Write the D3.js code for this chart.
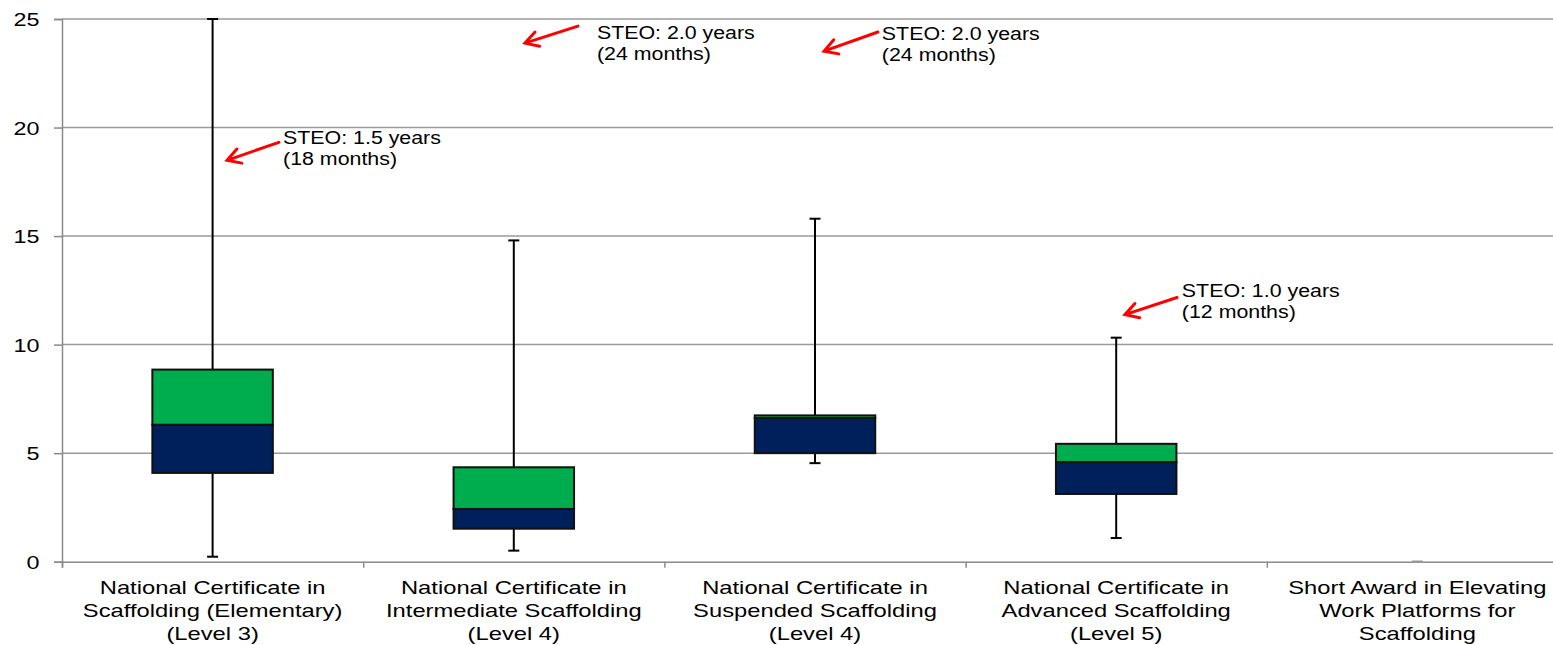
<!DOCTYPE html>
<html>
<head>
<meta charset="utf-8">
<script src="https://cdn.jsdelivr.net/npm/d3@7"></script>
<style>
  body { margin: 0; background: #fff; }
  text { font-family: "Liberation Sans", Arial, sans-serif; fill: #000; }
</style>
</head>
<body>
<div id="chart"></div>
<script>
// categories (axis labels split in lines)
var categories = ["Elementary L3", "Intermediate L4", "Suspended L4", "Advanced L5", "EWP"];
var labelLines = [
  ["National Certificate in", "Scaffolding (Elementary)", "(Level 3)"],
  ["National Certificate in", "Intermediate Scaffolding", "(Level 4)"],
  ["National Certificate in", "Suspended Scaffolding", "(Level 4)"],
  ["National Certificate in", "Advanced Scaffolding", "(Level 5)"],
  ["Short Award in Elevating", "Work Platforms for", "Scaffolding"]
];

// box plot values (months)
var minV   = [0.23, 0.51, 4.54, 1.09, 0];
var q1     = [4.09, 1.52, 5.00, 3.12, 0];
var median = [6.31, 2.43, 6.62, 4.59, 0];
var q3     = [8.85, 4.35, 6.74, 5.43, 0];
var maxV   = [25,   14.8, 15.8, 10.32, 0];

var yTicks = [0, 5, 10, 15, 20, 25];

// STEO annotations, positions in (category units, months)
var noteText = [
  ["STEO: 1.5 years", "(18 months)"],
  ["STEO: 2.0 years", "(24 months)"],
  ["STEO: 2.0 years", "(24 months)"],
  ["STEO: 1.0 years", "(12 months)"]
];
var noteTip  = [[0.548, 18.49], [1.537, 23.89], [2.530, 23.52], [3.529, 11.38]];
var noteTail = [[0.720, 19.32], [1.713, 24.67], [2.709, 24.40], [3.702, 12.17]];
var noteAt   = [[0.734, 19.22], [1.776, 24.09], [2.722, 24.03], [3.718, 12.21]];

var width = 1553, height = 645;
var plotLeft = 62, plotRight = 1568, plotTop = 19, plotBottom = 561.7;

var svg = d3.select("#chart").append("svg")
    .attr("width", width)
    .attr("height", height);

var x = d3.scaleBand().domain(categories).range([plotLeft, plotRight])
    .paddingInner(0.6).paddingOuter(0.3);
var xPos = d3.scaleLinear().domain([0, categories.length]).range([plotLeft, plotRight]);
var y = d3.scaleLinear().domain([0, 25]).range([plotBottom, plotTop]);

var green = "#00ad4e", navy = "#00205c";

// gridlines
svg.append("g")
  .selectAll("line")
  .data(yTicks.filter(function(d) { return d > 0; }))
  .enter().append("line")
  .attr("x1", plotLeft).attr("x2", plotRight)
  .attr("y1", function(d) { return y(d); })
  .attr("y2", function(d) { return y(d); })
  .style("stroke", "#9a9a9a")
  .style("stroke-width", "1.5px");

// y axis
var yAxis = svg.append("g")
  .attr("transform", "translate(" + plotLeft + ",0)")
  .call(d3.axisLeft(y).tickValues(yTicks).tickSize(8).tickPadding(0).tickFormat(function(d) { return ""; }));
yAxis.select(".domain").style("stroke", "#8a8a8a").style("stroke-width", "1.5px");
yAxis.selectAll(".tick line").style("stroke", "#8a8a8a").style("stroke-width", "1.5px");

svg.append("g").selectAll("text")
  .data(yTicks)
  .enter().append("text")
  .attr("transform", function(d) { return "translate(39.5," + (y(d) + 7) + ") scale(1.23,1)"; })
  .attr("text-anchor", "end")
  .style("font-size", "19px")
  .text(function(d) { return d; });

// x axis: boundary ticks
var xAxis = svg.append("g")
  .attr("transform", "translate(0," + plotBottom + ")")
  .call(d3.axisBottom(xPos).tickValues(d3.range(categories.length + 1)).tickSize(6).tickFormat(function() { return ""; }));
xAxis.select(".domain").style("stroke", "#8a8a8a").style("stroke-width", "1.5px");
xAxis.selectAll(".tick line").style("stroke", "#8a8a8a").style("stroke-width", "1.5px");

// category labels
var lab = svg.append("g").selectAll("g")
  .data(categories)
  .enter().append("g");
lab.each(function(c, i) {
  var g = d3.select(this);
  labelLines[i].forEach(function(s, j) {
    g.append("text")
      .attr("transform", "translate(" + (x(c) + x.bandwidth() / 2) + "," + (594 + j * 23) + ") scale(1.25,1)")
      .attr("text-anchor", "middle")
      .style("font-size", "19px")
      .text(s);
  });
});

// boxes
var box = svg.append("g").selectAll("g")
  .data(categories)
  .enter().append("g");

box.each(function(c, i) {
  var g = d3.select(this);
  var cx = x(c) + x.bandwidth() / 2;
  // whiskers
  g.append("line")
    .attr("x1", cx).attr("x2", cx)
    .attr("y1", y(maxV[i])).attr("y2", y(q3[i]))
    .style("stroke", "#000").style("stroke-width", "2px");
  g.append("line")
    .attr("x1", cx).attr("x2", cx)
    .attr("y1", y(q1[i])).attr("y2", y(minV[i]))
    .style("stroke", "#000").style("stroke-width", "2px");
  [minV[i], maxV[i]].forEach(function(v) {
    g.append("line")
      .attr("x1", cx - 5.5).attr("x2", cx + 5.5)
      .attr("y1", y(v)).attr("y2", y(v))
      .style("stroke", maxV[i] === 0 ? "#999" : "#000").style("stroke-width", "2px");
  });
  if (q3[i] > q1[i]) {
    g.append("rect")
      .attr("x", x(c)).attr("width", x.bandwidth())
      .attr("y", y(median[i])).attr("height", y(q1[i]) - y(median[i]))
      .style("fill", navy).style("stroke", "#111").style("stroke-width", "2px");
    g.append("rect")
      .attr("x", x(c)).attr("width", x.bandwidth())
      .attr("y", y(q3[i])).attr("height", y(median[i]) - y(q3[i]))
      .style("fill", green).style("stroke", "#111").style("stroke-width", "2px");
  }
});

// annotations
var notes = svg.append("g").selectAll("g")
  .data(noteText)
  .enter().append("g");

notes.each(function(t, i) {
  var g = d3.select(this);
  var tx = xPos(noteTip[i][0]), ty = y(noteTip[i][1]);
  var sx = xPos(noteTail[i][0]), sy = y(noteTail[i][1]);
  var ang = Math.atan2(ty - sy, tx - sx);
  var arm = 15, spread = Math.PI / 6;
  g.append("path")
    .attr("d", "M" + sx + "," + sy + "L" + tx + "," + ty +
      "M" + (tx - arm * Math.cos(ang - spread)) + "," + (ty - arm * Math.sin(ang - spread)) +
      "L" + tx + "," + ty +
      "L" + (tx - arm * Math.cos(ang + spread)) + "," + (ty - arm * Math.sin(ang + spread)))
    .style("fill", "none")
    .style("stroke", "#ff0000")
    .style("stroke-width", "3px")
    .style("stroke-linecap", "round");
  t.forEach(function(s, j) {
    g.append("text")
      .attr("transform", "translate(" + xPos(noteAt[i][0]) + "," + (y(noteAt[i][1]) + j * 21) + ") scale(1.155,1)")
      .style("font-size", "18.5px")
      .text(s);
  });
});
</script>
</body>
</html>
